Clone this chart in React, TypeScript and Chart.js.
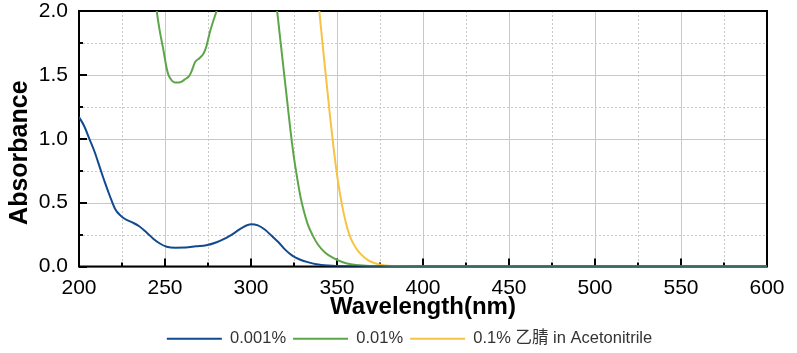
import React, { useEffect, useRef } from "react";
import { Chart, registerables } from "chart.js";

Chart.register(...registerables);

const seriesNames = ["0.001%", "0.01%", "0.1% 乙腈 in Acetonitrile"];
const seriesColors = ["#114a8f", "#5da549", "#f6c343"];

const blueWl = [200, 203, 206, 209, 212, 215, 218, 221, 224, 227, 231, 235, 239, 243, 247, 251, 256, 262, 268, 274, 280, 285, 290, 295, 300, 304, 308, 312, 316, 320, 324, 328, 333, 338, 345, 355, 370, 400, 450, 500, 550, 600];
const blueAbs = [1.17, 1.1, 1.0, 0.9, 0.78, 0.66, 0.55, 0.45, 0.4, 0.37, 0.345, 0.315, 0.27, 0.22, 0.18, 0.155, 0.147, 0.148, 0.158, 0.166, 0.19, 0.22, 0.26, 0.305, 0.33, 0.322, 0.29, 0.24, 0.19, 0.13, 0.085, 0.057, 0.034, 0.018, 0.008, 0.002, 0, 0, 0, 0, 0, 0];

const greenWl = [243, 245, 247, 249, 251, 252, 254, 256, 258, 260, 262, 264, 265.5, 267.5, 270, 272.5, 274, 276, 278, 280, 283, 290, 300, 310, 313, 315, 317, 319, 321, 323, 325, 327, 329, 331, 333, 336, 339, 343, 348, 353, 358, 365, 375, 400, 450, 500, 550, 600];
const greenAbs = [2.3, 2.02, 1.84, 1.7, 1.55, 1.5, 1.455, 1.44, 1.44, 1.45, 1.47, 1.49, 1.53, 1.6, 1.63, 1.67, 1.72, 1.83, 1.92, 2.0, 2.15, 2.5, 2.8, 2.5, 2.2, 2.02, 1.78, 1.54, 1.3, 1.06, 0.85, 0.68, 0.53, 0.42, 0.33, 0.24, 0.17, 0.11, 0.065, 0.035, 0.018, 0.007, 0.002, 0, 0, 0, 0, 0];

const yellowWl = [336, 338, 340, 342, 344, 346, 348, 350, 352, 354, 356, 358, 361, 364, 368, 372, 377, 385, 400, 450, 500, 550, 600];
const yellowAbs = [2.5, 2.25, 1.96, 1.69, 1.43, 1.17, 0.93, 0.72, 0.55, 0.41, 0.3, 0.22, 0.145, 0.095, 0.05, 0.025, 0.01, 0.003, 0, 0, 0, 0, 0];

const xTickValues = [200, 250, 300, 350, 400, 450, 500, 550, 600];
const yTickValues = [0, 0.5, 1.0, 1.5, 2.0];
const xMinorValues = [225, 275, 325, 375, 425, 475, 525, 575];
const yMinorValues = [0.25, 0.75, 1.25, 1.75];

const FONT = "'Liberation Sans', Arial, 'Noto Sans CJK SC', sans-serif";

const gridPlugin = {
  id: "customGrid",
  beforeDatasetsDraw(chart: any) {
    const { ctx, chartArea } = chart;
    const xs = chart.scales.x;
    const ys = chart.scales.y;
    const { left, right, top, bottom } = chartArea;
    ctx.save();
    ctx.lineWidth = 1;
    ctx.strokeStyle = "#c8c8c8";
    ctx.setLineDash([]);
    xTickValues.forEach((v) => {
      const px = Math.round(xs.getPixelForValue(v)) + 0.5;
      ctx.beginPath();
      ctx.moveTo(px, top);
      ctx.lineTo(px, bottom);
      ctx.stroke();
    });
    yTickValues.forEach((v) => {
      const py = Math.round(ys.getPixelForValue(v)) + 0.5;
      ctx.beginPath();
      ctx.moveTo(left, py);
      ctx.lineTo(right, py);
      ctx.stroke();
    });
    ctx.setLineDash([2, 2]);
    xMinorValues.forEach((v) => {
      const px = Math.round(xs.getPixelForValue(v)) + 0.5;
      ctx.beginPath();
      ctx.moveTo(px, top);
      ctx.lineTo(px, bottom);
      ctx.stroke();
    });
    yMinorValues.forEach((v) => {
      const py = Math.round(ys.getPixelForValue(v)) + 0.5;
      ctx.beginPath();
      ctx.moveTo(left, py);
      ctx.lineTo(right, py);
      ctx.stroke();
    });
    ctx.setLineDash([]);
    ctx.strokeStyle = "#000";
    ctx.lineWidth = 2;
    const tick = (x1: number, y1: number, x2: number, y2: number) => {
      ctx.beginPath();
      ctx.moveTo(x1, y1);
      ctx.lineTo(x2, y2);
      ctx.stroke();
    };
    xTickValues.forEach((v) => {
      const px = Math.round(xs.getPixelForValue(v));
      tick(px, bottom, px, bottom - 8);
    });
    xMinorValues.forEach((v) => {
      const px = Math.round(xs.getPixelForValue(v));
      tick(px, bottom, px, bottom - 4);
    });
    yTickValues.forEach((v) => {
      const py = Math.round(ys.getPixelForValue(v));
      tick(left, py, left + 8, py);
    });
    yMinorValues.forEach((v) => {
      const py = Math.round(ys.getPixelForValue(v));
      tick(left, py, left + 4, py);
    });
    ctx.strokeRect(left, top, right - left, bottom - top);
    ctx.restore();
  },
};

function buildData() {
  const wls = [blueWl, greenWl, yellowWl];
  const abss = [blueAbs, greenAbs, yellowAbs];
  return {
    datasets: seriesNames.map((name, i) => ({
      label: name,
      data: wls[i].map((w, j) => ({ x: w, y: abss[i][j] })),
      borderColor: seriesColors[i],
      backgroundColor: seriesColors[i],
      borderWidth: 2,
      pointRadius: 0,
      cubicInterpolationMode: "monotone" as const,
      fill: false,
    })),
  };
}

export default function App() {
  const ref = useRef<HTMLCanvasElement | null>(null);
  useEffect(() => {
    if (!ref.current) return;
    const chart = new Chart(ref.current, {
      type: "line",
      data: buildData() as any,
      plugins: [gridPlugin],
      options: {
        animation: false,
        responsive: true,
        maintainAspectRatio: false,
        layout: { padding: { left: 26, right: 4, top: 0, bottom: 0 } },
        scales: {
          x: {
            type: "linear",
            min: 200,
            max: 600,
            afterFit: (s: any) => {
              s.height = 57;
              s.paddingRight = 30;
            },
            ticks: {
              stepSize: 50,
              padding: 9,
              color: "#000",
              font: { family: FONT, size: 21 },
              maxRotation: 0,
            },
            grid: { display: false, drawTicks: false },
            border: { display: false },
            title: {
              display: true,
              text: "Wavelength(nm)",
              color: "#000",
              font: { family: FONT, size: 24, weight: "bold" },
              padding: { top: 0, bottom: 2 },
            },
          },
          y: {
            min: 0,
            max: 2,
            afterFit: (s: any) => {
              s.width = 53;
              s.paddingTop = 11;
            },
            ticks: {
              stepSize: 0.5,
              padding: 11,
              color: "#000",
              font: { family: FONT, size: 21 },
              callback: (v: any) => Number(v).toFixed(1),
            },
            grid: { display: false, drawTicks: false },
            border: { display: false },
            title: {
              display: true,
              text: "Absorbance    ",
              color: "#000",
              font: { family: FONT, size: 25, weight: "bold" },
              padding: { top: -21, bottom: 0 },
            },
          },
        },
        plugins: {
          legend: {
            position: "bottom",
            labels: {
              boxWidth: 55,
              boxHeight: 2,
              padding: 7,
              color: "#333",
              font: { family: FONT, size: 16.5 },
              generateLabels: (chart: any) =>
                Chart.defaults.plugins.legend.labels
                  .generateLabels(chart)
                  .map((l: any) => ({ ...l, lineWidth: 0 })),
            },
          },
          tooltip: { enabled: false },
        },
      } as any,
    });
    return () => chart.destroy();
  }, []);
  return (
    <div style={{ position: "fixed", left: 0, top: 0, width: 797, height: 357, background: "#fff" }}>
      <canvas ref={ref} />
    </div>
  );
}
